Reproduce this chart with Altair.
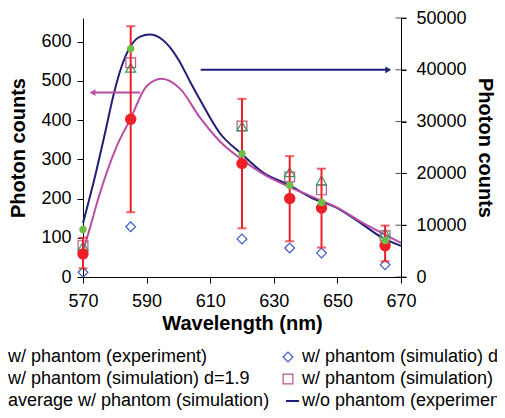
import altair as alt
import pandas as pd

FONT = "Liberation Sans"

# ---- data ----
wl = [570, 585, 620, 635, 645, 665]
exp_mean = [59, 402, 289, 200, 176, 80]
exp_lo = [22, 165, 124, 91, 75, 40]
exp_hi = [100, 639, 454, 308, 276, 131]
avg_sim = [121, 582, 314, 234, 190, 93]
sim_tri = [78, 533, 384, 267, 246, 112]
sim_sq = [80, 546, 385, 255, 222, 105]
sim_dia = [12, 128, 97, 74, 61, 31]

# w/o phantom (experiment) - right axis
navy_wl = [570, 574, 577, 579.5, 582, 585, 588, 591, 595, 600, 603.6, 606.8, 613, 620, 627, 634, 642, 650, 658, 663.5, 670]
navy_v = [10400, 20000, 28000, 34900, 40400, 44600, 46400, 46800, 45800, 42000, 37800, 34200, 27800, 23700, 20000, 18000, 15250, 13300, 10100, 7800, 6000]
# magenta curve - left axis
mag_wl = [570, 572, 575, 580.6, 584.8, 590, 594.7, 600.5, 606.8, 613, 620, 627, 634, 642, 650, 658, 664, 670]
mag_v = [66, 120, 205, 333, 401, 486, 505, 480, 406, 346, 299, 261, 233, 205, 177, 138, 112, 87]

# arrows
mag_arrow_wl = [573, 588]
mag_arrow_v = [470, 470]
navy_arrow_wl = [607, 666]
navy_arrow_v = [40000, 40000]

x_ticks = [570, 590, 610, 630, 650, 670]
yl_ticks = [0, 100, 200, 300, 400, 500, 600]
yr_ticks = [0, 10000, 20000, 30000, 40000, 50000]

legend_left = ["w/ phantom (experiment)", "w/ phantom (simulation) d=1.9", "average w/ phantom (simulation)"]
legend_right = ["w/ phantom (simulatio) d=", "w/ phantom (simulation) d=", "w/o phantom (experiment)"]

NAVY = "#1F1F78"
MAG = "#BA4DA5"
RED = "#EE2027"
GREEN = "#6DBE45"
TRI = "#2E9A68"
SQ = "#B05585"
DIA = "#3A5BC0"

x_scale = alt.Scale(domain=[570, 670], nice=False, zero=False)
yl_scale = alt.Scale(domain=[0, 660], nice=False)
yr_scale = alt.Scale(domain=[0, 50000], nice=False)

common_axis = dict(grid=False, domainColor="black", tickColor="black", labelColor="black",
                   titleColor="black", labelFont=FONT, titleFont=FONT, labelFontSize=18,
                   titleFontSize=20, titleFontWeight="bold", domainWidth=1, tickWidth=1)
x_axis = alt.Axis(values=x_ticks, title="Wavelength (nm)", tickSize=6, labelPadding=9,
                  titlePadding=3, labelFlush=False, **common_axis)
yl_axis = alt.Axis(values=yl_ticks, title="Photon counts", orient="left", tickSize=6,
                   labelPadding=6, titlePadding=12, format="d", **common_axis)
yr_axis = alt.Axis(values=yr_ticks, title="Photon counts", orient="right", tickSize=5,
                   labelPadding=10, titlePadding=8, format="d", **common_axis)


def X(f="wl"):
    return alt.X(f"{f}:Q", scale=x_scale, axis=x_axis)


def YL(f="v"):
    return alt.Y(f"{f}:Q", scale=yl_scale, axis=yl_axis)


def YR(f="v"):
    return alt.Y(f"{f}:Q", scale=yr_scale, axis=yr_axis)


def df(xs, ys):
    return pd.DataFrame({"wl": xs, "v": ys})


# ---- right axis group ----
navy_line = alt.Chart(df(navy_wl, navy_v)).mark_line(color=NAVY, strokeWidth=2, interpolate="monotone").encode(x=X(), y=YR())
navy_arrow = alt.Chart(df(navy_arrow_wl, navy_arrow_v)).mark_line(color=NAVY, strokeWidth=2).encode(x=X(), y=YR())
navy_head = alt.Chart(df(navy_arrow_wl[-1:], navy_arrow_v[-1:])).mark_point(
    shape="triangle-right", filled=True, color=NAVY, size=45, opacity=1).encode(x=X(), y=YR())
inner_ticks = alt.Chart(df([670] * len(yr_ticks), yr_ticks)).mark_tick(
    orient="horizontal", size=11, thickness=1, color="black").encode(x=X(), y=YR())
right_group = alt.layer(navy_line, navy_arrow, navy_head, inner_ticks)

# ---- left axis group ----
mag_line = alt.Chart(df(mag_wl, mag_v)).mark_line(color=MAG, strokeWidth=2, interpolate="monotone").encode(x=X(), y=YL())
mag_arrow = alt.Chart(df(mag_arrow_wl, mag_arrow_v)).mark_line(color=MAG, strokeWidth=2).encode(x=X(), y=YL())
mag_head = alt.Chart(df(mag_arrow_wl[:1], mag_arrow_v[:1])).mark_point(
    shape="triangle-left", filled=True, color=MAG, size=45, opacity=1).encode(x=X(), y=YL())

dia = alt.Chart(df(wl, sim_dia)).mark_point(shape="diamond", filled=False, color=DIA, size=95, strokeWidth=1.2, opacity=1).encode(x=X(), y=YL())
sq = alt.Chart(df(wl, sim_sq)).mark_point(shape="square", filled=False, color=SQ, size=95, strokeWidth=1.2, opacity=1).encode(x=X(), y=YL())
tri = alt.Chart(df(wl, sim_tri)).mark_point(shape="triangle-up", filled=False, color=TRI, size=100, strokeWidth=1.2, opacity=1).encode(x=X(), y=YL())

err_df = pd.DataFrame({"wl": wl, "lo": exp_lo, "hi": exp_hi})
err_rule = alt.Chart(err_df).mark_rule(color=RED, strokeWidth=2).encode(x=X(), y=YL("lo"), y2="hi:Q")
cap_lo = alt.Chart(err_df).mark_tick(orient="horizontal", size=9, thickness=2, color=RED).encode(x=X(), y=YL("lo"))
cap_hi = alt.Chart(err_df).mark_tick(orient="horizontal", size=9, thickness=2, color=RED).encode(x=X(), y=YL("hi"))
red = alt.Chart(df(wl, exp_mean)).mark_circle(color=RED, size=130, opacity=1).encode(x=X(), y=YL())
green = alt.Chart(df(wl, avg_sim)).mark_circle(color=GREEN, size=55, opacity=1).encode(x=X(), y=YL())

# ---- legend (drawn below the plot) ----
row_y = [339, 361, 383]
leg_layers = []
for i, lab in enumerate(legend_left):
    leg_layers.append(alt.Chart(pd.DataFrame({"t": [lab]})).mark_text(
        align="left", baseline="middle", fontSize=18, font=FONT, color="black").encode(
        text="t:N", x=alt.value(-75), y=alt.value(row_y[i])))
for i, lab in enumerate(legend_right):
    leg_layers.append(alt.Chart(pd.DataFrame({"t": [lab]})).mark_text(
        align="left", baseline="middle", fontSize=18, font=FONT, color="black").encode(
        text="t:N", x=alt.value(219), y=alt.value(row_y[i])))
sym_df = pd.DataFrame({"t": ["s"]})
leg_layers.append(alt.Chart(sym_df).mark_point(shape="diamond", filled=False, color=DIA, size=95, strokeWidth=1.2, opacity=1).encode(
    x=alt.value(205), y=alt.value(row_y[0])))
leg_layers.append(alt.Chart(sym_df).mark_point(shape="square", filled=False, color=SQ, size=95, strokeWidth=1.2, opacity=1).encode(
    x=alt.value(205), y=alt.value(row_y[1])))
leg_layers.append(alt.Chart(sym_df).mark_rule(color=NAVY, strokeWidth=2).encode(
    x=alt.value(203), x2=alt.value(216), y=alt.value(row_y[2])))

left_group = alt.layer(mag_line, mag_arrow, mag_head, dia, sq, tri, err_rule, cap_lo, cap_hi, red, green, *leg_layers)

chart = alt.layer(right_group, left_group).resolve_scale(y="independent").properties(
    width=318, height=259,
    autosize=alt.AutoSizeParams(type="none"),
    padding={"left": 75, "top": 10, "right": 96, "bottom": 133},
).configure_view(stroke=None)

chart.save("out.html", embed_options={"renderer": "svg", "actions": False})
